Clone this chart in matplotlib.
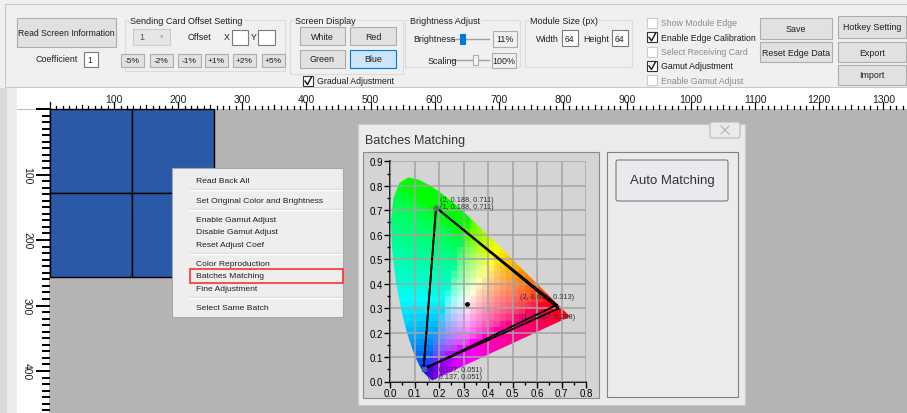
import numpy as np
import matplotlib
matplotlib.use("Agg")
import matplotlib.pyplot as plt
from matplotlib.patches import Rectangle, FancyBboxPatch, Polygon

plt.rcParams['font.family'] = ['Liberation Sans Narrow', 'Liberation Sans', 'DejaVu Sans']

# ---- chromaticity data (CIE 1931 spectral locus, x/y) ----
locus_x = [0.1741, 0.1733, 0.1714, 0.1689, 0.1644, 0.1566, 0.1440, 0.1355, 0.1241,
           0.1096, 0.0913, 0.0687, 0.0454, 0.0235, 0.0082, 0.0039, 0.0139, 0.0389,
           0.0743, 0.1142, 0.1547, 0.1929, 0.2296, 0.2658, 0.3016, 0.3373, 0.3731,
           0.4087, 0.4441, 0.4788, 0.5125, 0.5448, 0.5752, 0.6029, 0.6270, 0.6658,
           0.6915, 0.7079, 0.7190, 0.7260, 0.7300, 0.7347]
locus_y = [0.0050, 0.0048, 0.0051, 0.0069, 0.0109, 0.0177, 0.0297, 0.0399, 0.0578,
           0.0868, 0.1327, 0.2007, 0.2950, 0.4127, 0.5384, 0.6548, 0.7502, 0.8120,
           0.8338, 0.8262, 0.8059, 0.7816, 0.7543, 0.7243, 0.6923, 0.6589, 0.6245,
           0.5896, 0.5547, 0.5202, 0.4866, 0.4544, 0.4242, 0.3965, 0.3725, 0.3340,
           0.3083, 0.2920, 0.2809, 0.2740, 0.2700, 0.2653]

# ---- batch gamut vertices ----
batch_ids = [1, 2]
red_x = [0.687, 0.681]
red_y = [0.298, 0.313]
green_x = [0.188, 0.188]
green_y = [0.711, 0.711]
blue_x = [0.137, 0.137]
blue_y = [0.051, 0.051]
white_x, white_y = 0.313, 0.316

# ---- UI texts ----
ruler_top_labels = [100, 200, 300, 400, 500, 600, 700, 800, 900, 1000, 1100, 1200, 1300]
ruler_left_labels = [100, 200, 300, 400]
menu_items = [["Read Back All"],
              ["Set Original Color and Brightness"],
              ["Enable Gamut Adjust", "Disable Gamut Adjust", "Reset Adjust Coef"],
              ["Color Reproduction", "Batches Matching", "Fine Adjustment"],
              ["Select Same Batch"]]
offset_buttons = ["-5%", "-2%", "-1%", "+1%", "+2%", "+5%"]
check_items = [("Show Module Edge", False, False), ("Enable Edge Calibration", True, True),
               ("Select Receiving Card", False, False), ("Gamut Adjustment", True, True),
               ("Enable Gamut Adjust", False, False)]

W, H = 907, 414
fig = plt.figure(figsize=(W / 100, H / 100), dpi=100)
fig.patch.set_facecolor('#b4b4b4')
ui = fig.add_axes([0, 0, 1, 1])
ui.set_xlim(0, W)
ui.set_ylim(H, 0)
ui.axis('off')

TXT = '#1e1e1e'
GRAY_TXT = '#8c8c8c'
REG = ['Liberation Sans', 'DejaVu Sans']


def rect(x0, y0, x1, y1, fc='none', ec='none', lw=0.8, z=1):
    ui.add_patch(Rectangle((x0, y0), x1 - x0, y1 - y0, facecolor=fc, edgecolor=ec, linewidth=lw, zorder=z))


def label(x, y, s, size=6.4, color=TXT, ha='left', z=5, **kw):
    ui.text(x, y, s, fontsize=size, color=color, ha=ha, va='center', zorder=z, **kw)


def button(x0, y0, x1, y1, s, fc='#e1e1e1', ec='#adadad', size=6.4, color=TXT):
    rect(x0, y0, x1, y1, fc=fc, ec=ec)
    label((x0 + x1) / 2, (y0 + y1) / 2, s, size=size, ha='center', color=color)


def entry(x0, y0, x1, y1, s=''):
    rect(x0, y0, x1, y1, fc='white', ec='#7a7a7a')
    label(x0 + 3, (y0 + y1) / 2, s, size=6.2)


def group(x0, y0, x1, y1, title):
    rect(x0, y0, x1, y1, ec='#dcdcdc', lw=0.8)
    ui.text(x0 + 5, y0, title, fontsize=6.5, color=TXT, ha='left', va='center', zorder=5,
            bbox=dict(boxstyle='square,pad=0.15', fc='#f0f0f0', ec='none'))


def checkbox(x, y, s, checked, enabled):
    rect(x, y - 5, x + 10, y + 5, fc='white', ec='#333333' if enabled else '#cccccc')
    if checked:
        ui.plot([x + 2, x + 4.5, x + 8.5], [y, y + 3.5, y - 4], color='#111111', lw=1.0, zorder=6)
    label(x + 14, y, s, size=6.3, color=TXT if enabled else GRAY_TXT)


# ---------------- toolbar ----------------
rect(0, 0, W, 89, fc='#f0f0f0')
rect(5, 5, W + 2, 88, fc='#f0f0f0', ec='#c8c8c8')

button(17, 19, 116, 48, "Read Screen Information", size=6.2)
label(35, 60, "Coefficient")
entry(84, 53, 98, 68, "1")

group(125, 21, 285, 72, "Sending Card Offset Setting")
rect(133, 30, 170, 46, fc='#e6e6e6', ec='#cccccc')
label(139, 38, "1", color='#555555')
label(162, 38, "▾", size=5, color='#aaaaaa', ha='center', family=REG)
label(188, 38, "Offset")
label(224, 38, "X")
entry(232, 31, 248, 46)
label(251, 38, "Y")
entry(258, 31, 275, 46)
bx = [121, 150, 178, 205, 233, 262]
for x0, s in zip(bx, offset_buttons):
    button(x0, 55, x0 + 23, 68, s, size=6)

group(290, 21, 403, 75, "Screen Display")
button(300, 28, 345, 46, "White")
button(350, 28, 396, 46, "Red")
button(300, 51, 345, 69, "Green")
button(350, 51, 396, 69, "Blue", fc='#cce4f7', ec='#0078d7')
checkbox(303, 82, "Gradual Adjustment", True, True)

group(405, 21, 520, 68, "Brightness Adjust")
label(413, 40, "Brightness")
ui.plot([451, 489], [40, 40], color='#a0a0a0', lw=1, zorder=4)
rect(460, 35, 465, 45, fc='#0078d7', ec='#0078d7', z=6)
rect(493, 32, 517, 48, fc='#f0f0f0', ec='#adadad')
label(505, 40, "11%", ha='center')
label(428, 61, "Scaling")
ui.plot([451, 489], [61, 61], color='#a0a0a0', lw=1, zorder=4)
rect(473, 56, 478, 66, fc='#f4f4f4', ec='#adadad', z=6)
rect(492, 54, 516, 69, fc='#f0f0f0', ec='#adadad')
label(504, 61, "100%", ha='center')

group(525, 21, 632, 68, "Module Size (px)")
label(536, 39, "Width")
entry(562, 31, 578, 47, "64")
label(583, 39, "Height")
entry(612, 31, 628, 47, "64")

for i, (s, chk, en) in enumerate(check_items):
    checkbox(647, 24 + i * 14.3, s, chk, en)

button(760, 19, 832, 40, "Save")
button(760, 43, 832, 63, "Reset Edge Data")
button(838, 17, 906, 39, "Hotkey Setting")
button(838, 43, 906, 63, "Export")
button(838, 66, 906, 86, "Import")

# ---------------- workspace & rulers ----------------
rect(0, 89, W, H, fc='#b4b4b4')
rect(0, 89, 7, H, fc='#dadada')
rect(7, 89, 17, H, fc='#ececec')
rect(17, 89, W, 110, fc='white')
rect(17, 89, 49, H, fc='white')
ui.plot([17, 49], [110, 110], color='#c0c0c0', lw=0.8, zorder=3)

x_org, x_scl = 50.0, 0.641
y_org, y_scl = 110.0, 0.655
for u in range(0, 1400, 10):
    x = x_org + u * x_scl
    if x > W:
        break
    ln = 7 if u % 100 == 0 else (4.5 if u % 50 == 0 else 3)
    ui.plot([x, x], [110, 110 - ln], color='black', lw=0.9, zorder=4)
for v in ruler_top_labels:
    label(x_org + v * x_scl, 100, str(v), size=7.5, ha='center')
for u in range(0, 500, 10):
    y = y_org + u * y_scl
    if y > H:
        break
    ln = 12 if u % 100 == 0 else 6
    ui.plot([49, 49 - ln], [y, y], color='black', lw=1.4, zorder=4)
for v in ruler_left_labels:
    ui.text(27, y_org + v * y_scl, str(v), fontsize=7.5, color=TXT, rotation=-90,
            ha='center', va='center', zorder=5)

# LED screen: 2x2 modules of 128 px
for mx in (0, 128):
    for my in (0, 128):
        x0 = x_org + mx * x_scl
        y0 = y_org + my * y_scl
        rect(x0, y0, x0 + 128 * x_scl, y0 + 128 * y_scl, fc='#2a5aa7', ec='black', lw=1, z=2)

# ---------------- context menu ----------------
rect(172, 169, 343, 318, fc='#eeeeee', ec='#a8a8a8', z=7)
y = 182
for gi, grp in enumerate(menu_items):
    for item in grp:
        label(196, y, item, size=6.1, z=9, family=REG)
        if item == "Batches Matching":
            rect(190, y - 7, 343, y + 7, ec='#ff3030', lw=1.2, z=9)
        y += 12.4
    if gi < len(menu_items) - 1:
        ui.plot([190, 341], [y - 4, y - 4], color='#d8d8d8', lw=1, zorder=8)
        ui.plot([190, 341], [y - 3, y - 3], color='white', lw=1, zorder=8)
        y += 6.8

# ---------------- dialog ----------------
rect(358, 125, 745, 406, fc='#ebebeb', ec='#c8c8c8', z=10)
label(365, 141, "Batches Matching", size=9, color='#333333', z=11, family=REG)
ui.add_patch(FancyBboxPatch((710, 123), 30, 16, boxstyle='round,pad=0,rounding_size=2',
                            fc='#ebebeb', ec='#b8b8b8', lw=0.8, zorder=11))
ui.plot([721, 729], [127, 135], color='#b0b0b0', lw=0.8, zorder=12)
ui.plot([721, 729], [135, 127], color='#b0b0b0', lw=0.8, zorder=12)
rect(363, 153, 599, 399, fc='#d4d4d4', ec='#8a8a8a', z=11)
rect(607, 153, 738, 398, fc='#ebebeb', ec='#808080', z=11)
ui.add_patch(FancyBboxPatch((616, 161), 112, 41, boxstyle='round,pad=0,rounding_size=2',
                            fc='#e8eaee', ec='#7a7a7a', lw=0.8, zorder=12))
label(672, 181.5, "Auto Matching", size=9.5, color='#333333', ha='center', z=13, family=REG)

# ---------------- CIE chart ----------------
ax = fig.add_axes([390 / W, 1 - 382.5 / H, (586 - 390) / W, (382.5 - 162.3) / H])
ax.set_facecolor('#d4d4d4')
ax.set_zorder(20)

step = 0.025
gx = np.arange(0, 0.76, step) + step / 2
gy = np.arange(0, 0.86, step) + step / 2
X, Y = np.meshgrid(gx, gy)
Xc = X / Y
Zc = (1 - X - Y) / Y
M = np.array([[3.2406, -1.5372, -0.4986], [-0.9689, 1.8758, 0.0415], [0.0557, -0.2040, 1.0570]])
rgb = np.einsum('ij,jkl->kli', M, np.stack([Xc, np.ones_like(Xc), Zc]))
rgb = np.clip(rgb, 0, None)
rgb = rgb / rgb.max(axis=2, keepdims=True)
rgb = np.where(rgb <= 0.0031308, 12.92 * rgb, 1.055 * rgb ** (1 / 2.4) - 0.055)
img = ax.imshow(rgb, origin='lower', extent=(0, gx[-1] + step / 2, 0, gy[-1] + step / 2),
                interpolation='nearest', zorder=1, aspect='auto')
locus = Polygon(np.column_stack([locus_x, locus_y]), closed=True, transform=ax.transData,
                fc='none', ec='none')
ax.add_patch(locus)
img.set_clip_path(locus)

ax.set_xlim(0, 0.8)
ax.set_ylim(0, 0.9)
ax.set_xticks(np.arange(0, 0.81, 0.1))
ax.set_yticks(np.arange(0, 0.91, 0.1))
ax.set_xticks(np.arange(0.05, 0.8, 0.1), minor=True)
ax.set_yticks(np.arange(0.05, 0.9, 0.1), minor=True)
ax.xaxis.set_major_formatter(matplotlib.ticker.FormatStrFormatter('%.1f'))
ax.yaxis.set_major_formatter(matplotlib.ticker.FormatStrFormatter('%.1f'))
ax.tick_params(which='major', length=4, width=1, labelsize=7, pad=1, colors='black')
ax.tick_params(which='minor', length=2, width=1)
for t in ax.get_xticklabels() + ax.get_yticklabels():
    t.set_family(REG)
ax.grid(True, color='#a4a4a4', lw=1.1, zorder=2)
ax.set_axisbelow(False)
for side in ('top', 'right'):
    ax.spines[side].set_visible(False)
for side in ('left', 'bottom'):
    ax.spines[side].set_linewidth(1.2)

lbl_off = {'g': [(4, 1), (4, 8)], 'r': [(-37, -8), (-37, 8)], 'b': [(4, -7), (4, 0)]}
for i, b in enumerate(batch_ids):
    tx = [red_x[i], green_x[i], blue_x[i], red_x[i]]
    ty = [red_y[i], green_y[i], blue_y[i], red_y[i]]
    ax.plot(tx, ty, color='black', lw=1.3, zorder=5)
    for key, px, py in (('r', red_x[i], red_y[i]), ('g', green_x[i], green_y[i]), ('b', blue_x[i], blue_y[i])):
        dx, dy = lbl_off[key][i]
        ax.annotate(f"({b}, {px:.3f}, {py:.3f})", (px, py), xytext=(dx, dy), textcoords='offset pixels',
                    fontsize=5.3, color='#303030', va='center', ha='left', zorder=7, family=REG)
ax.plot(green_x[:1], green_y[:1], 'o', ms=3.5, color='#4a7a5a', zorder=6)
ax.plot(blue_x[:1], blue_y[:1], 's', ms=3.5, color='#4060b0', zorder=6)
ax.plot([white_x], [white_y], 'o', ms=2.5, color='black', zorder=6)

fig.savefig('out.png', dpi=100, facecolor=fig.get_facecolor())
